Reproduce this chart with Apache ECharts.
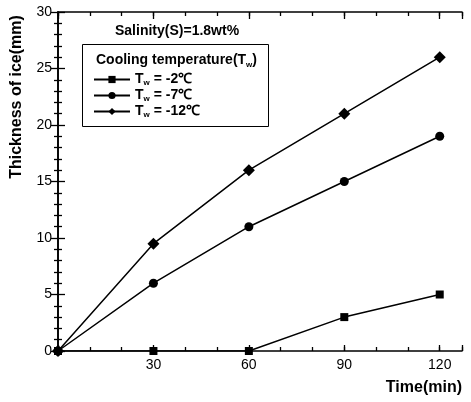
<!DOCTYPE html>
<html>
<head>
<meta charset="utf-8">
<script src="https://cdn.jsdelivr.net/npm/echarts@6/dist/echarts.min.js"></script>
<style>
html,body{margin:0;padding:0;background:#fff;}
#main{width:471px;height:402px;}
</style>
</head>
<body>
<div id="main"></div>
<script>
// time points (min)
var times=[0,30,60,90,120];
// ice thickness (mm) per cooling temperature
var tw2=[0,0,0,3,5];
var tw7=[0,6,11,15,19];
var tw12=[0,9.5,16,21,26];
var seriesNames=['T_w = -2℃','T_w = -7℃','T_w = -12℃'];
var xLabels=[30,60,90,120];

function pairs(vals){
	var out=[];
	for(var i=0;i<times.length;i++){
		out.push([times[i],vals[i]]);
	}
	return out;
}

var font='Arial, "Liberation Sans", sans-serif';
var myChart=echarts.init(document.getElementById('main'));

var tickInside=function(len){
	return {show:true,inside:true,length:len,lineStyle:{color:'#000',width:1.3}};
};

var option={
	backgroundColor:'#fff',
	animation:false,
	grid:{left:58,right:9,top:12,bottom:51},
	xAxis:[
		{
			type:'value',min:0,max:127,interval:10,position:'bottom',
			axisLine:{show:true,lineStyle:{color:'#000',width:1.6}},
			axisTick:tickInside(4),
			splitLine:{show:false},
			axisLabel:{
				margin:7,color:'#000',fontSize:14,fontFamily:font,
				formatter:function(v){return xLabels.indexOf(v)>=0?String(v):'';}
			}
		},
		{
			type:'value',min:0,max:127,interval:30,position:'bottom',
			axisLine:{show:false},axisTick:tickInside(6),
			axisLabel:{show:false},splitLine:{show:false}
		},
		{
			type:'value',min:0,max:127,interval:10,position:'top',
			axisLine:{show:true,lineStyle:{color:'#000',width:1.6}},
			axisTick:tickInside(4),axisLabel:{show:false},splitLine:{show:false}
		},
		{
			type:'value',min:0,max:127,interval:30,position:'top',
			axisLine:{show:false},axisTick:tickInside(7),
			axisLabel:{show:false},splitLine:{show:false}
		}
	],
	yAxis:[
		{
			type:'value',min:0,max:30,interval:5,position:'left',
			axisLine:{show:true,lineStyle:{color:'#000',width:1.6}},
			axisTick:tickInside(7),
			minorTick:{show:true,splitNumber:5,length:4,lineStyle:{color:'#000',width:1.3}},
			splitLine:{show:false},
			axisLabel:{margin:6,color:'#000',fontSize:14,fontFamily:font}
		},
		{
			type:'value',min:0,max:30,interval:5,position:'right',
			axisLine:{show:true,lineStyle:{color:'#000',width:1.6}},
			axisTick:tickInside(7),
			minorTick:{show:true,splitNumber:5,length:4,lineStyle:{color:'#000',width:1.3}},
			splitLine:{show:false},axisLabel:{show:false}
		}
	],
	legend:{
		orient:'vertical',left:93,top:71,padding:0,
		itemWidth:36,itemHeight:9,itemGap:0,
		data:seriesNames,
		formatter:function(name){
			var rest=name.substring(3);
			return '{t|T}{s|w}{t|'+rest+'}';
		},
		textStyle:{
			color:'#000',fontFamily:font,fontWeight:'bold',fontSize:14,lineHeight:15,
			rich:{
				t:{fontFamily:font,fontWeight:'bold',fontSize:14,color:'#000',lineHeight:15},
				s:{fontFamily:font,fontWeight:'bold',fontSize:8,color:'#000',lineHeight:15,verticalAlign:'bottom',padding:[8,0,0,0]}
			}
		}
	},
	graphic:[
		{type:'rect',shape:{x:82.5,y:44.5,width:186,height:82},style:{fill:'none',stroke:'#000',lineWidth:1}},
		{type:'text',left:115,top:24,style:{text:'Salinity(S)=1.8wt%',font:'bold 14px '+font,fill:'#000'}},
		{type:'text',left:96,top:53,style:{
			text:'{t|Cooling temperature(T}{s|w}{t|)}',
			rich:{
				t:{font:'bold 14px '+font,fill:'#000'},
				s:{font:'bold 8px '+font,fill:'#000',verticalAlign:'bottom',padding:[9,0,0,0]}
			}
		}},
		{type:'text',x:17,y:97,rotation:Math.PI/2,style:{
			text:'Thickness of ice(mm)',font:'bold 16px '+font,fill:'#000',
			align:'center',verticalAlign:'middle'
		}},
		{type:'text',x:462,y:388,style:{
			text:'Time(min)',font:'bold 16px '+font,fill:'#000',
			align:'right',verticalAlign:'middle'
		}}
	],
	series:[
		{name:seriesNames[0],type:'line',data:pairs(tw2),symbol:'rect',symbolSize:8,
			itemStyle:{color:'#000'},lineStyle:{color:'#000',width:1.5}},
		{name:seriesNames[1],type:'line',data:pairs(tw7),symbol:'circle',symbolSize:9,
			itemStyle:{color:'#000'},lineStyle:{color:'#000',width:1.5}},
		{name:seriesNames[2],type:'line',data:pairs(tw12),symbol:'diamond',symbolSize:12,
			itemStyle:{color:'#000'},lineStyle:{color:'#000',width:1.5}}
	]
};
myChart.setOption(option);
</script>
</body>
</html>
